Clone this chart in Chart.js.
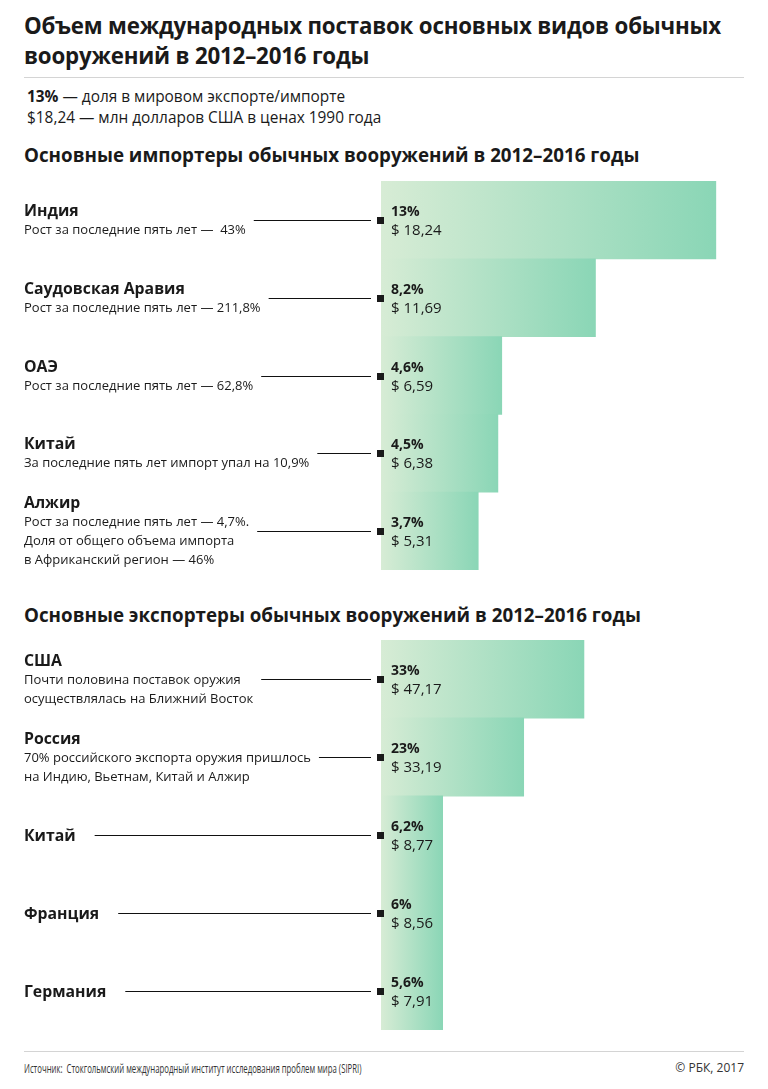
<!DOCTYPE html>
<html lang="ru">
<head>
<meta charset="utf-8">
<script src="https://cdn.jsdelivr.net/npm/chart.js@4/dist/chart.umd.min.js"></script>
<style>
  html, body { margin: 0; padding: 0; background: #fff; }
  body { width: 768px; height: 1089px; position: relative; overflow: hidden;
         font-family: "Open Sans", "Noto Sans", sans-serif; color: #1a1a1a; }
  h1 { position: absolute; left: 24px; top: 11px; margin: 0; font-size: 22.3px; line-height: 30px;
       font-weight: 700; width: 730px; letter-spacing: -0.2px; }
  .sep { position: absolute; left: 24px; width: 720px; height: 1px; background: #d4d4d4; }
  .legend { position: absolute; left: 27px; top: 86px; font-size: 15.4px; line-height: 21px; }
  .legend b { font-weight: 700; }
  h2 { position: absolute; left: 24px; margin: 0; font-size: 18.8px; font-weight: 700; line-height: 24px; }
  .wrap { position: absolute; left: 0; width: 768px; }
  .wrap canvas { position: absolute; left: 0; top: 0; }
  .lbl { position: absolute; left: 24px; white-space: pre; }
  .lbl .nm { font-weight: 700; font-size: 15.8px; line-height: 19px; }
  .lbl .nt { font-size: 13px; line-height: 19px; }
  .val { position: absolute; white-space: nowrap; }
  .val .pc { font-weight: 700; font-size: 14px; line-height: 19px; }
  .val .dl { font-size: 15px; line-height: 19px; }
  .src { position: absolute; top: 1058px; font-size: 12px; line-height: 20px; color: #333; white-space: nowrap; }
  .src.left { left: 24px; font-size: 13.5px; transform: scaleX(0.575); transform-origin: 0 0; }
</style>
</head>
<body>
<h1>Объем международных поставок основных видов обычных<br>вооружений в 2012–2016 годы</h1>
<div class="sep" style="top:77px"></div>
<div class="legend"><b>13%</b> — доля в мировом экспорте/импорте<br>$18,24 — млн долларов США в ценах 1990 года</div>
<h2 style="top:143px">Основные импортеры обычных вооружений в 2012–2016 годы</h2>
<div class="wrap" id="impWrap" style="top:181px;height:389px"><canvas id="impChart"></canvas></div>
<h2 style="top:603px">Основные экспортеры обычных вооружений в 2012–2016 годы</h2>
<div class="wrap" id="expWrap" style="top:640px;height:390px"><canvas id="expChart"></canvas></div>
<div class="sep" style="top:1051px"></div>
<div class="src left">Источник:&nbsp; Стокгольмский международный институт исследования проблем мира (SIPRI)</div>
<div class="src" style="right:24px">© РБК, 2017</div>

<script>
// ---- data ----
const importCountries = ['Индия', 'Саудовская Аравия', 'ОАЭ', 'Китай', 'Алжир'];
const importNotes = [
  ['Рост за последние пять лет —  43%'],
  ['Рост за последние пять лет — 211,8%'],
  ['Рост за последние пять лет — 62,8%'],
  ['За последние пять лет импорт упал на 10,9%'],
  ['Рост за последние пять лет — 4,7%.', 'Доля от общего объема импорта', 'в Африканский регион — 46%']
];
const importShare = ['13%', '8,2%', '4,6%', '4,5%', '3,7%'];
const importValues = [18.24, 11.69, 6.59, 6.38, 5.31];

const exportCountries = ['США', 'Россия', 'Китай', 'Франция', 'Германия'];
const exportNotes = [
  ['Почти половина поставок оружия', 'осуществлялась на Ближний Восток'],
  ['70% российского экспорта оружия пришлось', 'на Индию, Вьетнам, Китай и Алжир'],
  [], [], []
];
const exportShare = ['33%', '23%', '6,2%', '6%', '5,6%'];
const exportValues = [47.17, 33.19, 8.77, 8.56, 7.91];

// ---- helpers ----
function fmtMoney(v) { return '$ ' + v.toFixed(2).replace('.', ','); }

const labelPlugin = {
  id: 'rowLabels',
  afterDraw(chart) {
    const cfg = chart.options.plugins.rowLabels;
    const wrap = chart.canvas.parentNode;
    const meta = chart.getDatasetMeta(0);
    const ctx = chart.ctx;
    meta.data.forEach((bar, i) => {
      let lbl = wrap.querySelector('.lbl[data-i="' + i + '"]');
      if (!lbl) {
        lbl = document.createElement('div');
        lbl.className = 'lbl';
        lbl.dataset.i = i;
        let html = '<div class="nm">' + cfg.names[i] + '</div>';
        cfg.notes[i].forEach(t => { html += '<div class="nt">' + t + '</div>'; });
        lbl.innerHTML = html;
        wrap.appendChild(lbl);
        const val = document.createElement('div');
        val.className = 'val';
        val.dataset.i = i;
        val.innerHTML = '<div class="pc">' + cfg.shares[i] + '</div><div class="dl">' +
          fmtMoney(chart.data.datasets[0].data[i]) + '</div>';
        wrap.appendChild(val);
      }
      const val = wrap.querySelector('.val[data-i="' + i + '"]');
      const h = lbl.offsetHeight;
      lbl.style.top = (bar.y - h / 2) + 'px';
      let w = 0;
      lbl.querySelectorAll('div').forEach(d => {
        const r = document.createRange(); r.selectNodeContents(d);
        w = Math.max(w, r.getBoundingClientRect().width);
      });
      val.style.left = (bar.base + 10) + 'px';
      val.style.top = (bar.y - val.offsetHeight / 2) + 'px';
      const gap = cfg.notes[i].length ? 8 : 19;
      const y = Math.round(bar.y) + 0.5;
      ctx.save();
      ctx.strokeStyle = '#111';
      ctx.lineWidth = 1;
      ctx.beginPath();
      ctx.moveTo(24 + w + gap, y);
      ctx.lineTo(bar.base - 10, y);
      ctx.stroke();
      ctx.fillStyle = '#1a1a1a';
      ctx.fillRect(Math.round(bar.base) - 4, Math.round(bar.y) - 3, 7, 7);
      ctx.restore();
    });
  }
};

function barGradient(context, minLen) {
  const chart = context.chart;
  const area = chart.chartArea;
  if (!area || context.dataIndex === undefined) return 'rgb(170,222,195)';
  const xs = chart.scales.x;
  const v = context.dataset.data[context.dataIndex];
  const x0 = xs.getPixelForValue(0);
  const x1 = Math.max(xs.getPixelForValue(v), x0 + minLen);
  const g = chart.ctx.createLinearGradient(x0, 0, x1, 0);
  g.addColorStop(0, 'rgb(215,236,213)');
  g.addColorStop(0.45, 'rgb(180,226,199)');
  g.addColorStop(1, 'rgb(138,214,182)');
  return g;
}

function makeChart(id, labels, values, notes, shares, xMax, minLen) {
  return new Chart(document.getElementById(id), {
    type: 'bar',
    data: {
      labels: labels,
      datasets: [{
        data: values,
        backgroundColor: (c) => barGradient(c, minLen),
        borderWidth: 0,
        categoryPercentage: 1,
        barPercentage: 1.01,
        minBarLength: minLen
      }]
    },
    options: {
      indexAxis: 'y',
      responsive: true,
      maintainAspectRatio: false,
      animation: false,
      events: [],
      layout: { padding: { left: 381, right: 25, top: 0, bottom: 0 } },
      scales: {
        x: { display: false, min: 0, max: xMax },
        y: { display: false }
      },
      plugins: {
        legend: { display: false },
        tooltip: { enabled: false },
        rowLabels: { names: labels, notes: notes, shares: shares }
      }
    },
    plugins: [labelPlugin]
  });
}

makeChart('impChart', importCountries, importValues, importNotes, importShare, 19.7, 0);
makeChart('expChart', exportCountries, exportValues, exportNotes, exportShare, 84, 62);
</script>
</body>
</html>
